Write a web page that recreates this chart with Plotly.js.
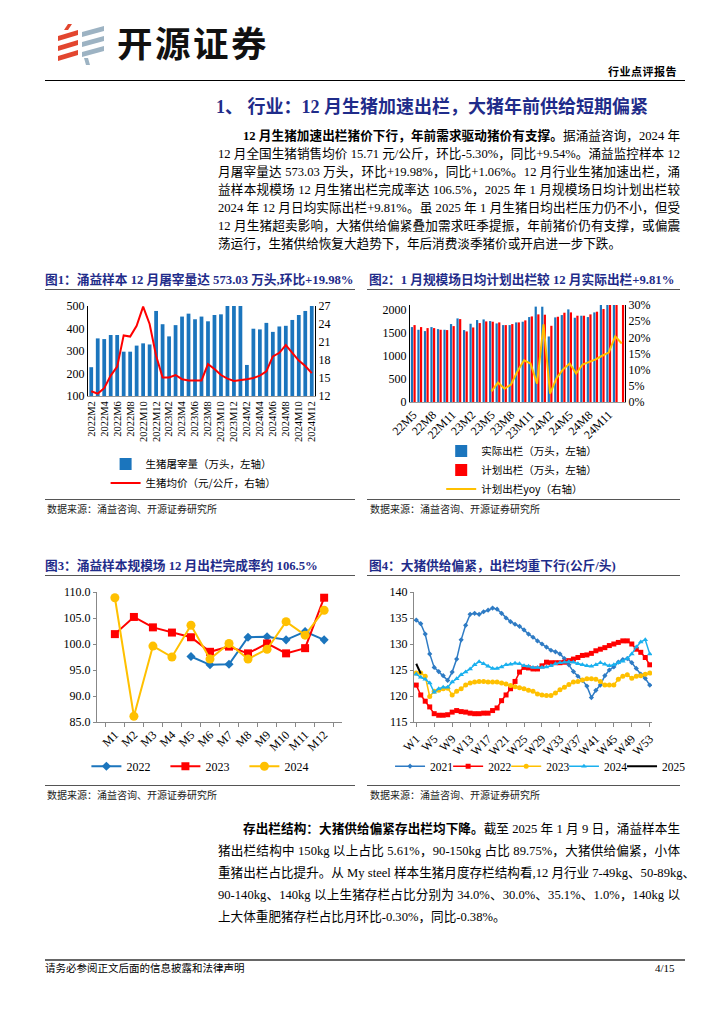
<!DOCTYPE html>
<html><head><meta charset="utf-8">
<script src="https://cdn.plot.ly/plotly-3.0.1.min.js"></script>
<style>
body{margin:0;background:#fff;}
#page{position:relative;width:724px;height:1024px;background:#fff;overflow:hidden;font-family:"Liberation Serif","Noto Sans CJK SC",serif;color:#000;}
.abs{position:absolute;}
.ln{position:absolute;left:218px;width:462px;font-size:12.6px;line-height:16px;height:16px;text-align:justify;text-align-last:justify;white-space:nowrap;}
.ln.last{text-align-last:left;}
.ftitle{position:absolute;font-family:"Liberation Serif","Noto Sans CJK SC",serif;font-weight:bold;font-size:12.7px;color:#1F2C8A;white-space:nowrap;line-height:14px;}
.rule{position:absolute;height:0;border-top:1px solid #555;}
.src{position:absolute;font-family:"Noto Sans CJK SC",sans-serif;font-size:10px;color:#222;white-space:nowrap;line-height:12px;}
.chart{position:absolute;}
</style>
</head><body>
<div id="page">
  <!-- header -->
  <svg class="abs" style="left:56px;top:24px" width="52" height="42" viewBox="0 0 52 42">
    <polygon points="12,0 16,0 12,6 8,6" fill="#E2462F"/>
    <polygon points="2,12 22,6 22,11 2,17" fill="#E2462F"/>
    <polygon points="2,22 22,16 22,21 2,27" fill="#E2462F"/>
    <polygon points="2,32 22,26 22,31 2,37" fill="#E2462F"/>
    <polygon points="26,8 48,2 48,7 26,13" fill="#9DB3C3"/>
    <polygon points="26,18 48,12 48,17 26,23" fill="#9DB3C3"/>
    <polygon points="26,28 48,22 48,27 26,33" fill="#9DB3C3"/>
    <polygon points="28,34 32,34 34,41 30,41" fill="#9DB3C3"/>
  </svg>
  <div class="abs" style="left:117px;top:20px;font-family:'Noto Sans CJK SC',sans-serif;font-weight:bold;font-size:35.5px;letter-spacing:2.5px;line-height:44px;color:#111;">开源证券</div>
  <div class="abs" style="left:608px;top:64px;font-family:'Noto Sans CJK SC',sans-serif;font-weight:bold;font-size:11px;line-height:14px;letter-spacing:0.5px;">行业点评报告</div>
  <div class="abs" style="left:45px;top:80px;width:640px;height:0;border-top:1.5px solid #000;"></div>

  <!-- section heading -->
  <div class="abs" style="left:216px;top:96px;font-family:'Liberation Serif','Noto Sans CJK SC',serif;font-weight:bold;font-size:18px;line-height:22px;color:#1F2C8A;white-space:nowrap;">1、 行业：12 月生猪加速出栏，大猪年前供给短期偏紧</div>

  <!-- paragraph 1 -->
  <div class="ln" style="top:128px;left:243px;width:437px;"><b>12 月生猪加速出栏猪价下行，年前需求驱动猪价有支撑。</b>据涌益咨询，2024 年</div>
  <div class="ln" style="top:146px;">12 月全国生猪销售均价 15.71 元/公斤，环比-5.30%，同比+9.54%。涌益监控样本 12</div>
  <div class="ln" style="top:164px;">月屠宰量达 573.03 万头，环比+19.98%，同比+1.06%。12 月行业生猪加速出栏，涌</div>
  <div class="ln" style="top:182px;">益样本规模场 12 月生猪出栏完成率达 106.5%，2025 年 1 月规模场日均计划出栏较</div>
  <div class="ln" style="top:200px;">2024 年 12 月日均实际出栏+9.81%。虽 2025 年 1 月生猪日均出栏压力仍不小，但受</div>
  <div class="ln" style="top:218px;">12 月生猪超卖影响，大猪供给偏紧叠加需求旺季提振，年前猪价仍有支撑，或偏震</div>
  <div class="ln last" style="top:236px;">荡运行，生猪供给恢复大趋势下，年后消费淡季猪价或开启进一步下跌。</div>

  <!-- figure titles row 1 -->
  <div class="ftitle" style="left:45px;top:273px;">图1：涌益样本 12 月屠宰量达 573.03 万头,环比+19.98%</div>
  <div class="rule" style="left:45px;top:289px;width:310px;"></div>
  <div class="ftitle" style="left:369px;top:273px;">图2：1 月规模场日均计划出栏较 12 月实际出栏+9.81%</div>
  <div class="rule" style="left:367px;top:289px;width:313px;"></div>

  <div id="c1" class="chart" style="left:40px;top:295px;width:320px;height:202px;"></div>
  <div id="c2" class="chart" style="left:362px;top:295px;width:330px;height:202px;"></div>

  <div class="rule" style="left:45px;top:499px;width:310px;"></div>
  <div class="src" style="left:47px;top:503px;">数据来源：涌益咨询、开源证券研究所</div>
  <div class="rule" style="left:367px;top:499px;width:313px;"></div>
  <div class="src" style="left:370px;top:503px;">数据来源：涌益咨询、开源证券研究所</div>

  <!-- figure titles row 2 -->
  <div class="ftitle" style="left:45px;top:559px;">图3：涌益样本规模场 12 月出栏完成率约 106.5%</div>
  <div class="rule" style="left:45px;top:575px;width:310px;"></div>
  <div class="ftitle" style="left:369px;top:559px;">图4：大猪供给偏紧，出栏均重下行(公斤/头)</div>
  <div class="rule" style="left:367px;top:575px;width:313px;"></div>

  <div id="c3" class="chart" style="left:40px;top:580px;width:320px;height:202px;"></div>
  <div id="c4" class="chart" style="left:362px;top:580px;width:330px;height:202px;"></div>

  <div class="rule" style="left:45px;top:785px;width:310px;"></div>
  <div class="src" style="left:47px;top:789px;">数据来源：涌益咨询、开源证券研究所</div>
  <div class="rule" style="left:367px;top:785px;width:313px;"></div>
  <div class="src" style="left:370px;top:789px;">数据来源：涌益咨询、开源证券研究所</div>

  <!-- paragraph 2 -->
  <div class="ln" style="top:821px;left:243px;width:437px;"><b>存出栏结构：大猪供给偏紧存出栏均下降。</b>截至 2025 年 1 月 9 日，涌益样本生</div>
  <div class="ln" style="top:843px;">猪出栏结构中 150kg 以上占比 5.61%，90-150kg 占比 89.75%，大猪供给偏紧，小体</div>
  <div class="ln" style="top:865px;">重猪出栏占比提升。从 My steel 样本生猪月度存栏结构看,12 月行业 7-49kg、50-89kg、</div>
  <div class="ln" style="top:887px;">90-140kg、140kg 以上生猪存栏占比分别为 34.0%、30.0%、35.1%、1.0%，140kg 以</div>
  <div class="ln last" style="top:909px;">上大体重肥猪存栏占比月环比-0.30%，同比-0.38%。</div>

  <!-- footer -->
  <div class="abs" style="left:45px;top:959px;width:640px;height:0;border-top:2px solid #666;"></div>
  <div class="src" style="left:45px;top:962px;font-size:10.5px;color:#000;">请务必参阅正文后面的信息披露和法律声明</div>
  <div class="abs" style="left:655px;top:962px;font-size:11px;line-height:12px;">4/15</div>
</div>

<script>
// ---------- Chart 1 data ----------
const c1Months = ['2022M2','2022M3','2022M4','2022M5','2022M6','2022M7','2022M8','2022M9','2022M10','2022M11','2022M12',
  '2023M1','2023M2','2023M3','2023M4','2023M5','2023M6','2023M7','2023M8','2023M9','2023M10','2023M11','2023M12',
  '2024M1','2024M2','2024M3','2024M4','2024M5','2024M6','2024M7','2024M8','2024M9','2024M10','2024M11','2024M12'];
const c1Slaughter = [228,356,353,371,371,297,297,324,334,329,478,
  419,365,415,453,466,441,453,432,460,463,512,567,
  530,238,399,396,425,385,409,412,438,460,478,573];
const c1Price = [12.8,12.4,13.3,15.4,16.9,22.1,21.9,23.7,26.9,24.0,18.7,
  15.1,15.1,15.5,14.8,14.6,14.6,14.6,17.3,16.5,15.5,14.9,14.5,
  14.6,14.8,15.0,15.4,16.1,18.6,19.2,20.5,19.2,17.9,17.0,15.8];
const c1Ticks = ['2022M2','2022M4','2022M6','2022M8','2022M10','2022M12','2023M2','2023M4','2023M6','2023M8','2023M10','2023M12',
  '2024M2','2024M4','2024M6','2024M8','2024M10','2024M12'];

// ---------- Chart 2 data ----------
const c2Months = ['22M5','22M6','22M7','22M8','22M9','22M10','22M11','22M12',
  '23M1','23M2','23M3','23M4','23M5','23M6','23M7','23M8','23M9','23M10','23M11','23M12',
  '24M1','24M2','24M3','24M4','24M5','24M6','24M7','24M8','24M9','24M10','24M11','24M12','25M1'];
const c2Actual = [1622,1564,1535,1622,1578,1564,1687,1810,
  1557,1694,1774,1788,1752,1701,1665,1665,1723,1738,1839,2065,
  2063,1419,1832,1882,2005,1824,1868,1839,1940,2110,2160,2180,null];
const c2Plan = [1665,1622,1600,1600,1564,1557,1643,1795,
  1528,1614,1709,1745,1738,1723,1665,1687,1723,1767,1853,1897,
  1890,1650,1846,1933,1940,1868,1868,1897,1955,2013,2137,2282,2232];
const c2Yoy = [null,null,null,null,null,null,null,null,
  null,null,null,null,0.033,0.060,0.041,0.054,0.095,0.129,0.119,0.057,
  0.240,0.026,0.074,0.101,0.119,0.088,0.116,0.124,0.132,0.143,0.153,0.203,0.181];
const c2Ticks = ['22M5','22M8','22M11','23M2','23M5','23M8','23M11','24M2','24M5','24M8','24M11'];

// ---------- Chart 3 data ----------
const c3Months = ['M1','M2','M3','M4','M5','M6','M7','M8','M9','M10','M11','M12'];
const c3Y2022 = [null,null,null,null,97.6,96.0,96.1,101.3,101.4,100.8,102.4,100.8];
const c3Y2023 = [101.9,105.2,103.2,102.2,101.3,98.5,99.5,98.2,100.1,98.2,99.2,108.9];
const c3Y2024 = [108.9,86.1,99.6,97.5,103.6,97.1,100.1,97.1,99.0,104.3,101.7,106.5];

// ---------- Chart 4 data ----------
const c4Weeks = ['W1','W2','W3','W4','W5','W6','W7','W8','W9','W10','W11','W12','W13','W14','W15','W16','W17','W18','W19','W20',
  'W21','W22','W23','W24','W25','W26','W27','W28','W29','W30','W31','W32','W33','W34','W35','W36','W37','W38','W39','W40',
  'W41','W42','W43','W44','W45','W46','W47','W48','W49','W50','W51','W52','W53'];
const c4Y2021 = [134.6,133.9,131.9,128.1,125.5,124.7,123.9,123.0,124.6,127.1,130.8,133.6,135.7,135.9,135.7,136.2,136.5,136.9,136.7,135.9,
  135.0,134.3,133.8,133.4,132.7,131.9,131.3,130.6,130.0,129.4,128.8,128.5,128.1,127.2,126.0,124.7,123.8,123.0,121.9,119.7,
  121.1,122.1,123.9,125.0,125.6,126.5,127.0,127.2,126.4,125.3,124.2,123.4,122.1];
const c4Y2022 = [122.1,120.2,119.0,117.9,116.6,116.3,116.3,116.4,116.9,117.2,117.0,116.9,116.7,116.6,116.6,116.7,116.7,117.2,117.7,119.1,
  120.2,121.4,122.8,124.6,125.5,125.4,125.2,125.2,125.8,126.5,126.4,126.4,126.4,126.5,126.8,127.1,127.4,127.8,127.9,128.2,
  128.7,129.0,129.3,129.7,130.0,130.3,130.6,130.6,130.0,129.0,128.4,127.4,126.0];
const c4Y2023 = [124.4,124.4,123.8,119.9,120.9,121.1,121.4,121.5,120.2,120.9,121.4,122.1,122.5,122.7,122.8,122.8,122.7,122.7,122.7,122.5,
  122.3,122.0,121.8,121.6,121.4,121.1,120.9,120.4,120.2,120.1,120.1,120.6,121.2,121.7,122.2,122.7,122.8,123.1,123.3,123.3,
  123.2,122.8,122.1,122.1,122.1,123.2,123.8,124.1,123.4,123.8,123.9,124.2,124.4];
const c4Y2024 = [124.2,123.6,123.2,122.5,120.7,121.4,121.7,121.7,122.7,123.3,124.1,124.6,125.2,126.0,126.6,126.2,125.7,125.3,125.3,125.6,
  126.0,126.1,126.3,126.2,125.8,125.7,125.5,125.5,125.5,125.6,125.8,126.2,126.4,126.5,126.6,126.5,126.2,126.0,125.8,125.7,
  126.0,126.4,126.1,125.8,126.0,126.4,126.7,127.2,128.1,129.4,130.4,130.8,128.1];
const c4Y2025 = [126.2,124.3];
const c4Ticks = ['W1','W5','W9','W13','W17','W21','W25','W29','W33','W37','W41','W45','W49','W53'];

const numFont = {family:'Liberation Serif, Noto Sans CJK SC, serif', size:12, color:'#000'};
const cjkFont = {family:'Noto Sans CJK SC, sans-serif', size:10.5, color:'#000'};
const cfg = {staticPlot:true, displayModeBar:false, responsive:false};

// ---------- Chart 1 ----------
Plotly.newPlot('c1', [
  {type:'bar', x:c1Months, y:c1Slaughter, name:'生猪屠宰量（万头，左轴）', marker:{color:'#1B75BD'}, yaxis:'y'},
  {type:'scatter', mode:'lines', x:c1Months, y:c1Price, name:'生猪均价（元/公斤，右轴）', line:{color:'#FF0000', width:2}, yaxis:'y2'}
], {
  width:320, height:202, margin:{l:48, r:45, t:11, b:101, autoexpand:false},
  paper_bgcolor:'rgba(0,0,0,0)', plot_bgcolor:'#fff', font:numFont, bargap:0.42,
  xaxis:{type:'category', tickmode:'array', tickvals:c1Ticks, ticktext:c1Ticks, tickangle:-90, tickfont:{family:numFont.family, size:10.5},
    showline:true, linecolor:'#999', ticks:'', showgrid:false, zeroline:false, automargin:false},
  yaxis:{range:[100,500], tickvals:[100,200,300,400,500], showline:true, linecolor:'#000', ticks:'', showgrid:false, zeroline:false, tickfont:{size:12}, automargin:false},
  yaxis2:{overlaying:'y', side:'right', range:[12,27], tickvals:[12,15,18,21,24,27], showline:true, linecolor:'#000', ticks:'', showgrid:false, zeroline:false, tickfont:{size:12}, automargin:false},
  legend:{xref:'container', yref:'container', x:0.205, y:0.235, xanchor:'left', yanchor:'top', font:cjkFont, bgcolor:'rgba(0,0,0,0)', tracegroupgap:1, itemwidth:30},
  showlegend:true
}, cfg);

// ---------- Chart 2 ----------
Plotly.newPlot('c2', [
  {type:'bar', x:c2Months, y:c2Actual, name:'实际出栏（万头，左轴）', marker:{color:'#1B75BD'}, yaxis:'y'},
  {type:'bar', x:c2Months, y:c2Plan, name:'计划出栏（万头，左轴）', marker:{color:'#FF0000'}, yaxis:'y'},
  {type:'scatter', mode:'lines', x:c2Months, y:c2Yoy, name:'计划出栏yoy（右轴）', line:{color:'#FFC000', width:2}, yaxis:'y2', connectgaps:false}
], {
  width:330, height:202, margin:{l:48, r:67, t:10, b:95, autoexpand:false},
  paper_bgcolor:'rgba(0,0,0,0)', plot_bgcolor:'#fff', font:numFont, barmode:'group', bargap:0.2, bargroupgap:0.15,
  xaxis:{type:'category', tickmode:'array', tickvals:c2Ticks, ticktext:c2Ticks, tickangle:-45, tickfont:{family:numFont.family, size:12},
    showline:true, linecolor:'#999', ticks:'', showgrid:false, zeroline:false, automargin:false},
  yaxis:{range:[0,2100], tickvals:[0,500,1000,1500,2000], showline:true, linecolor:'#000', ticks:'', showgrid:false, zeroline:false, automargin:false},
  yaxis2:{overlaying:'y', side:'right', range:[0,0.3], tickvals:[0,0.05,0.1,0.15,0.2,0.25,0.3], tickformat:'.0%', showline:true, linecolor:'#000', ticks:'', showgrid:false, zeroline:false, automargin:false},
  legend:{xref:'container', yref:'container', x:0.24, y:0.3, xanchor:'left', yanchor:'top', font:cjkFont, bgcolor:'rgba(0,0,0,0)', tracegroupgap:0, itemwidth:30, traceorder:'normal'},
  showlegend:true
}, cfg);

// ---------- Chart 3 ----------
Plotly.newPlot('c3', [
  {type:'scatter', mode:'lines+markers', x:c3Months, y:c3Y2022, name:'2022', line:{color:'#1B75BD', width:2}, marker:{symbol:'diamond', size:7, color:'#1B75BD'}, connectgaps:false},
  {type:'scatter', mode:'lines+markers', x:c3Months, y:c3Y2023, name:'2023', line:{color:'#FF0000', width:2}, marker:{symbol:'square', size:8, color:'#FF0000'}},
  {type:'scatter', mode:'lines+markers', x:c3Months, y:c3Y2024, name:'2024', line:{color:'#FFC000', width:2}, marker:{symbol:'circle', size:9, color:'#FFC000'}}
], {
  width:320, height:202, margin:{l:57, r:18, t:12, b:60, autoexpand:false},
  paper_bgcolor:'rgba(0,0,0,0)', plot_bgcolor:'#fff', font:numFont,
  xaxis:{type:'category', tickangle:-45, tickfont:{size:12}, showline:true, linecolor:'#888', ticks:'outside', tickson:'boundaries', ticklen:4, tickcolor:'#888', showgrid:false, zeroline:false, automargin:false},
  yaxis:{range:[85,110], tickvals:[85,90,95,100,105,110], tickformat:'.1f', ticksuffix:'%', showline:true, linecolor:'#888', ticks:'outside', ticklen:3, tickcolor:'#888', showgrid:false, zeroline:false, tickfont:{size:12}, automargin:false},
  legend:{orientation:'h', xref:'container', yref:'container', x:0.145, y:0.15, xanchor:'left', yanchor:'top', font:{family:numFont.family, size:12}, entrywidth:34, entrywidthmode:'pixels', itemwidth:30, bgcolor:'rgba(0,0,0,0)'},
  showlegend:true
}, cfg);

// ---------- Chart 4 ----------
const c4Leg = (x) => ({orientation:'h', xref:'container', yref:'container', x:x, y:0.15, xanchor:'left', yanchor:'top',
  font:{family:numFont.family, size:11.5}, itemwidth:30, bgcolor:'rgba(0,0,0,0)'});
Plotly.newPlot('c4', [
  {type:'scatter', mode:'lines+markers', x:c4Weeks, y:c4Y2021, name:'2021', legend:'legend', line:{color:'#2E7BC4', width:1.5}, marker:{symbol:'diamond', size:4, color:'#2E7BC4'}},
  {type:'scatter', mode:'lines+markers', x:c4Weeks, y:c4Y2022, name:'2022', legend:'legend2', line:{color:'#FF0000', width:1.5}, marker:{symbol:'square', size:5, color:'#FF0000'}},
  {type:'scatter', mode:'lines+markers', x:c4Weeks, y:c4Y2023, name:'2023', legend:'legend3', line:{color:'#FFC000', width:1.5}, marker:{symbol:'circle', size:5, color:'#FFC000'}},
  {type:'scatter', mode:'lines+markers', x:c4Weeks, y:c4Y2024, name:'2024', legend:'legend4', line:{color:'#1AB0EE', width:1.5}, marker:{symbol:'triangle-up', size:5, color:'#1AB0EE'}},
  {type:'scatter', mode:'lines+markers', x:c4Weeks.slice(0, c4Y2025.length), y:c4Y2025, name:'2025', legend:'legend5', line:{color:'#000', width:2}, marker:{symbol:'x-thin', size:3, color:'#000'}}
], {
  width:330, height:202, margin:{l:52, r:40, t:12, b:60, autoexpand:false},
  paper_bgcolor:'rgba(0,0,0,0)', plot_bgcolor:'#fff', font:numFont,
  xaxis:{type:'category', categoryarray:c4Weeks, categoryorder:'array', range:[-0.5,52.5], tickmode:'array', tickvals:c4Ticks, ticktext:c4Ticks, tickangle:-45, tickfont:{size:12},
    showline:true, linecolor:'#888', ticks:'outside', ticklen:4, tickcolor:'#888', showgrid:false, zeroline:false, automargin:false},
  yaxis:{range:[115,140], tickvals:[115,120,125,130,135,140], showline:true, linecolor:'#888', ticks:'outside', ticklen:3, tickcolor:'#888', showgrid:false, zeroline:false, tickfont:{size:12}, automargin:false},
  legend:c4Leg(0.085), legend2:c4Leg(0.261), legend3:c4Leg(0.437), legend4:c4Leg(0.612), legend5:c4Leg(0.788),
  showlegend:true
}, cfg);
</script>
</body></html>
